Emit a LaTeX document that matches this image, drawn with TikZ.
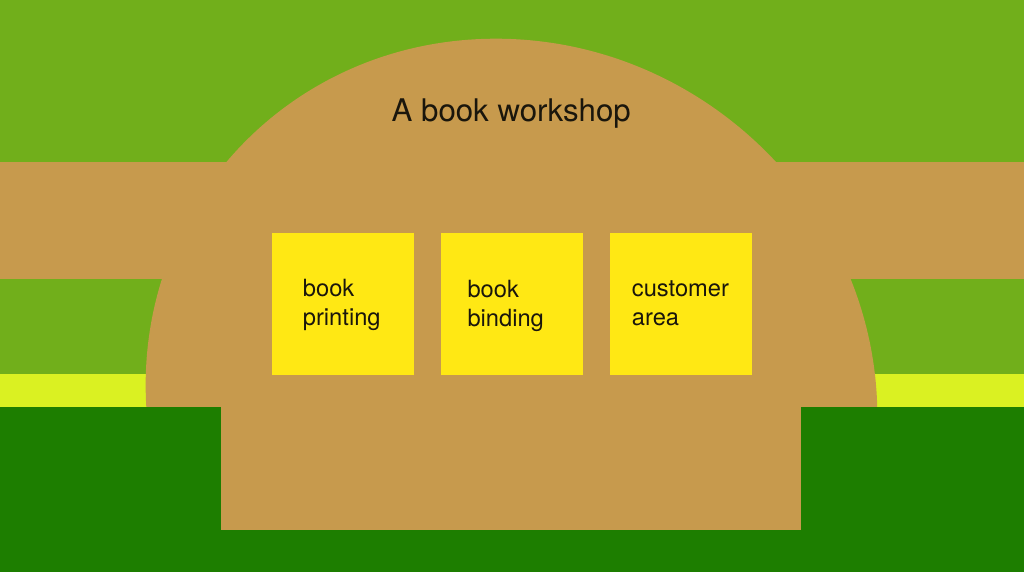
\documentclass[tikz,border=0pt]{standalone}
\usepackage{fontspec}
\setmainfont{TeX Gyre Heros}
\definecolor{grassA}{RGB}{113,175,27}
\definecolor{tanC}{RGB}{199,154,77}
\definecolor{limeC}{RGB}{218,241,34}
\definecolor{darkG}{RGB}{29,126,0}
\definecolor{boxY}{RGB}{255,232,20}
\definecolor{inkC}{RGB}{26,22,12}
\tikzset{
  room/.style={fill=boxY, draw=none, minimum width=142pt, minimum height=142pt, inner sep=0pt, anchor=north west},
  lbl/.style={text=inkC, font=\fontsize{23.7}{29}\selectfont, inner sep=0pt, anchor=base west},
  ttl/.style={text=inkC, font=\fontsize{31.2}{36}\selectfont, inner sep=0pt, anchor=base west}
}
\begin{document}
\begin{tikzpicture}[x=1pt,y=-1pt]
\useasboundingbox (0,0) rectangle (1024,572);
% background layers
\fill[grassA] (0,0) rectangle (1024,572);
\fill[tanC] (0,162) rectangle (1024,279);
\fill[limeC] (0,374) rectangle (1024,407);
\begin{scope}[shift={(511.5,400.7)}, xslant=-0.043]
  \fill[tanC] (0,0) ellipse [x radius=365.5pt, y radius=362pt];
\end{scope}
\fill[darkG] (0,407) rectangle (1024,572);
\fill[tanC] (221,406) rectangle (801,530);
% title
\node[ttl] (title) at (391.5,121.7) {A book workshop};
% rooms
\node[room] (r1) at (272,233) {};
\node[room] (r2) at (441,233) {};
\node[room] (r3) at (610,233) {};
% labels
\node[lbl] (l1a) at (302.7,296.7) {book};
\node[lbl] (l1b) at (302.7,325.7) {printing};
\node[lbl] (l2a) at (467.3,297.7) {book};
\node[lbl] (l2b) at (467.3,326.7) {binding};
\node[lbl] (l3a) at (631.7,296.7) {customer};
\node[lbl] (l3b) at (631.7,325.7) {area};
\end{tikzpicture}
\end{document}
